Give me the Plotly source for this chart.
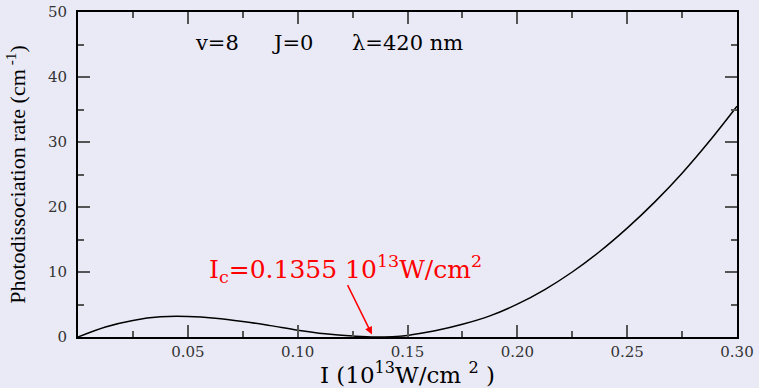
import plotly.graph_objects as go

# Data
intensity = [0, 0.0125, 0.025, 0.0375, 0.05, 0.0625, 0.075, 0.0875, 0.10, 0.1125, 0.125, 0.1355,
             0.15, 0.1625, 0.175, 0.1875, 0.20, 0.2125, 0.225, 0.2375, 0.25, 0.2625,
             0.275, 0.2875, 0.30]
rate = [0, 1.55, 2.55, 3.1, 3.15, 2.9, 2.4, 1.75, 1.05, 0.5, 0.15, 0.0,
        0.25, 0.95, 1.95, 3.25, 5.05, 7.3, 10.0, 13.15, 16.75, 20.75,
        25.2, 30.15, 35.5]

x_ticks = [0.05, 0.10, 0.15, 0.20, 0.25, 0.30]
x_ticklabels = ["0.05", "0.10", "0.15", "0.20", "0.25", "0.30"]
x_minor = [0.025, 0.075, 0.125, 0.175, 0.225, 0.275]
y_ticks = [0, 10, 20, 30, 40, 50]
y_minor = [5, 15, 25, 35, 45]

ic_value = 0.1355

BG = "#EAEAF6"
SERIF = "DejaVu Serif, serif"
TIMES = "Liberation Serif, Times New Roman, serif"

fig = go.Figure()
fig.add_trace(go.Scatter(x=intensity, y=rate, mode="lines",
                         line=dict(color="black", width=1.5, shape="spline", smoothing=1.0),
                         showlegend=False, hoverinfo="skip"))

axis_common = dict(showgrid=False, zeroline=False, showline=True, linecolor="black", linewidth=2,
                   mirror="allticks", ticks="inside", ticklen=12, tickwidth=1.5, tickcolor="#555",
                   automargin=False,
                   tickfont=dict(family=SERIF, size=15, color="#333"))

fig.update_xaxes(range=[0, 0.30], tickmode="array", tickvals=x_ticks, ticktext=x_ticklabels,
                 minor=dict(tickmode="array", tickvals=x_minor, ticks="inside", ticklen=6,
                            tickwidth=1.5, tickcolor="#555"),
                 title=dict(text="I (10<sup>13</sup>W/cm <sup>2</sup> )", standoff=4,
                            font=dict(family=SERIF, size=23, color="black")),
                 **axis_common)
fig.update_yaxes(range=[0, 50], tickmode="array", tickvals=y_ticks,
                 minor=dict(tickmode="array", tickvals=y_minor, ticks="inside", ticklen=6,
                            tickwidth=1.5, tickcolor="#555"),
                 title=dict(text="Photodissociation rate (cm<sup> -1</sup>)", standoff=16,
                            font=dict(family=TIMES, size=22, color="black")),
                 ticklabelstandoff=6,
                 **axis_common)

for label, xpos in [("v=8", 0.0523), ("J=0", 0.0874), ("λ=420 nm", 0.1238)]:
    fig.add_annotation(x=xpos, y=45.3, xref="x", yref="y", xanchor="left", yanchor="middle",
                       text=label, showarrow=False,
                       font=dict(family=SERIF, size=21, color="black"))

fig.add_annotation(x=0.0585, y=10.5, xref="x", yref="y", xanchor="left", yanchor="middle",
                   text="I<sub>c</sub>=0.1355 10<sup>13</sup>W/cm<sup>2</sup>", showarrow=False,
                   font=dict(family=SERIF, size=25, color="red"))
fig.add_annotation(x=ic_value - 0.0017, y=0.4, ax=0.1224, ay=8.2, xref="x", yref="y",
                   axref="x", ayref="y", text="", showarrow=True, arrowhead=2, arrowsize=1,
                   arrowwidth=1.5, arrowcolor="red")

fig.update_layout(width=759, height=388, paper_bgcolor=BG, plot_bgcolor=BG,
                  margin=dict(l=78, r=22, t=12, b=51),
                  font=dict(family=SERIF))

fig.write_html("out.html")
